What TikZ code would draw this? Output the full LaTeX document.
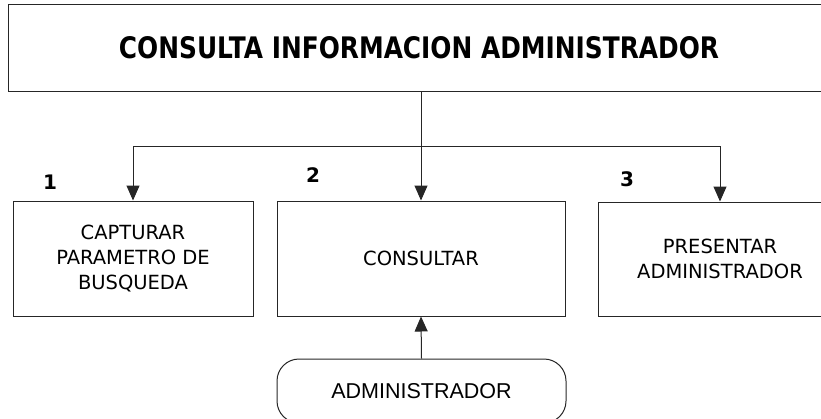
\documentclass[tikz,border=0pt]{standalone}
\usepackage{fontspec}
\setmainfont{DejaVu Sans}
\newfontfamily\arialf{Liberation Sans}
\usetikzlibrary{arrows.meta}
\begin{document}
\begin{tikzpicture}[x=1pt,y=-1pt,
  boxst/.style={draw=black!85, line width=1pt, rectangle, inner sep=0pt, align=center,
    font=\fontsize{19.5}{25}\selectfont},
  arr/.style={draw=black!85, line width=1pt, -{Triangle[width=13pt,length=15pt]}},
  numst/.style={font=\fontsize{20}{20}\selectfont\bfseries, inner sep=0pt}]
\useasboundingbox (0,0) rectangle (821,418);
\clip (0,0) rectangle (821,418);
\node[boxst, minimum width=822pt, minimum height=87pt] (title) at (419,47.5)
  {\resizebox{600pt}{22pt}{\bfseries CONSULTA INFORMACION ADMINISTRADOR}};
\node[boxst, minimum width=240pt, minimum height=115pt] (b1) at (133,258.5)
  {CAPTURAR\\PARAMETRO DE\\BUSQUEDA};
\node[boxst, minimum width=288pt, minimum height=115pt] (b2) at (421,258.5)
  {CONSULTAR};
\node[boxst, minimum width=244pt, minimum height=114pt] (b3) at (720,259)
  {PRESENTAR\\ADMINISTRADOR};
\node[boxst, rounded corners=22pt, minimum width=289pt, minimum height=64pt,
  font=\arialf\fontsize{21.5}{25}\selectfont] (adm) at (421.5,391) {ADMINISTRADOR};
\node[numst] (n1) at (50,182) {1};
\node[numst] (n2) at (313,175) {2};
\node[numst] (n3) at (627,179) {3};
\coordinate (split) at (421,146);
\draw[draw=black!85, line width=1pt] (title.south -| b2) -- (split);
\draw[arr] (split) -- (b2.north);
\draw[arr] (split) -| (b1.north);
\draw[arr] (split) -| (b3.north);
\draw[arr] (adm.north) -- (b2.south);
\end{tikzpicture}
\end{document}
